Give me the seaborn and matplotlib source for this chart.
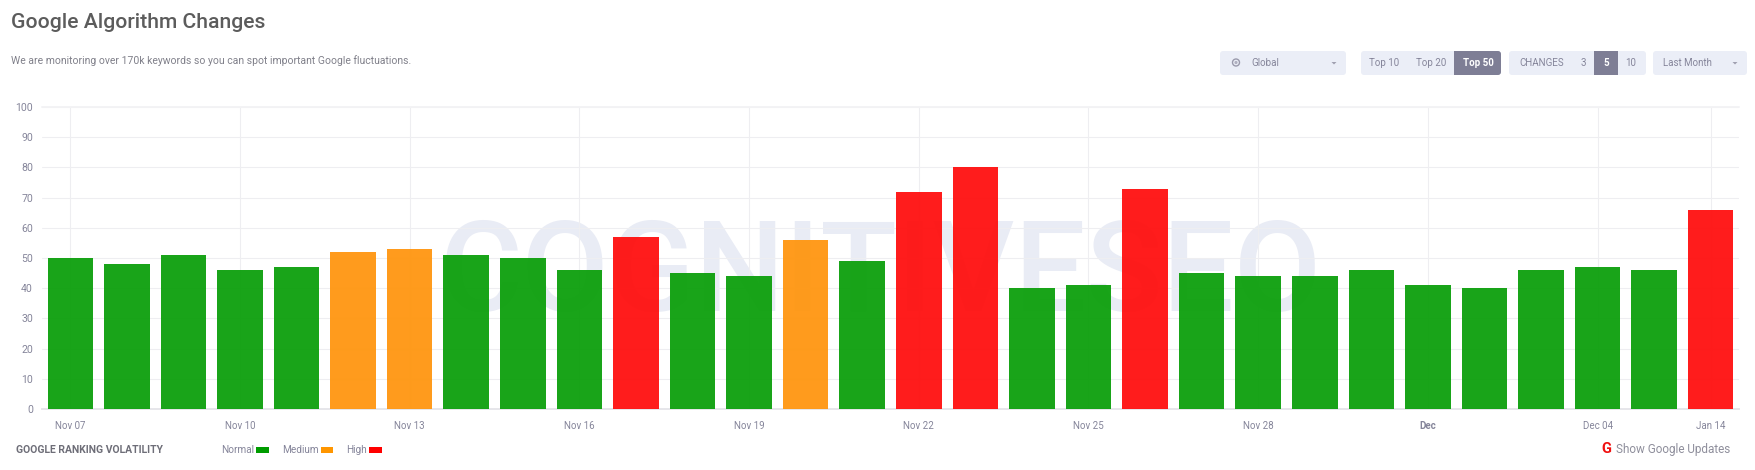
"""Google algorithm changes: daily ranking volatility bars with the page controls around them."""

import matplotlib.pyplot as plt
import pandas as pd
import seaborn as sns
from matplotlib.patches import Circle, FancyBboxPatch, Polygon, Rectangle

days = [
    "Nov 07", "Nov 08", "Nov 09", "Nov 10", "Nov 11", "Nov 12", "Nov 13", "Nov 14", "Nov 15", "Nov 16",
    "Nov 17", "Nov 18", "Nov 19", "Nov 20", "Nov 21", "Nov 22", "Nov 23", "Nov 24", "Nov 25", "Nov 26",
    "Nov 27", "Nov 28", "Nov 29", "Nov 30", "Dec 01", "Dec 02", "Dec 03", "Dec 04", "Dec 05", "Jan 14",
]
volatility = [
    50, 48, 51, 46, 47, 52, 53, 51, 50, 46,
    57, 45, 44, 56, 49, 72, 80, 40, 41, 73,
    45, 44, 44, 46, 41, 40, 46, 47, 46, 66,
]
levels = [
    "Normal", "Normal", "Normal", "Normal", "Normal", "Medium", "Medium", "Normal", "Normal", "Normal",
    "High", "Normal", "Normal", "Medium", "Normal", "High", "High", "Normal", "Normal", "High",
    "Normal", "Normal", "Normal", "Normal", "Normal", "Normal", "Normal", "Normal", "Normal", "High",
]
tick_days = ["Nov 07", "Nov 10", "Nov 13", "Nov 16", "Nov 19", "Nov 22", "Nov 25", "Nov 28", "Dec 01", "Dec 04", "Jan 14"]
tick_labels = ["Nov 07", "Nov 10", "Nov 13", "Nov 16", "Nov 19", "Nov 22", "Nov 25", "Nov 28", "Dec", "Dec 04", "Jan 14"]
y_ticks = list(range(0, 101, 10))

W, H = 1755, 470
PILL = "#ebeef7"
ACTIVE = "#7e7e95"
TEXT = "#85859a"
GRID = "#eeeef1"

sns.set_style("white")
plt.rcParams["font.family"] = ["Roboto", "DejaVu Sans"]

df = pd.DataFrame({"day": days, "volatility": volatility, "level": levels})

fig = plt.figure(figsize=(W / 100, H / 100), dpi=100)

# page layer in pixel coordinates, sits behind the chart
page = fig.add_axes([0, 0, 1, 1], zorder=0)
page.set_xlim(0, W)
page.set_ylim(H, 0)
page.axis("off")


def pill(x0, x1, color=PILL, y0=51, y1=75):
    page.add_patch(FancyBboxPatch((x0, y0), x1 - x0, y1 - y0, boxstyle="round,pad=0,rounding_size=3",
                                  fc=color, ec="none"))


def label(x, y, s, size=7, color=TEXT, ha="center", **kw):
    page.text(x, y, s, fontsize=size, color=color, ha=ha, va="center", **kw)


def caret(x):
    page.add_patch(Polygon([(x - 2.5, 62), (x + 2.5, 62), (x, 64.5)], fc="#a0a0b0", ec="none"))


page.text(881, 276, "COGNITIVESEO", fontsize=91, color="#e9ecf5", ha="center", va="center", fontweight="medium")

label(11, 22, "Google Algorithm Changes", size=15.2, color="#5c5c5c", ha="left", fontweight="medium")
label(11, 61, "We are monitoring over 170k keywords so you can spot important Google fluctuations.",
      size=7.5, color="#80808a", ha="left")

# controls
pill(1220, 1346)
page.add_patch(Circle((1236, 62.5), 3.5, fc="none", ec="#9a9aac", lw=1))
page.add_patch(Circle((1236, 62.5), 1.6, fc="#b0b0c0", ec="none"))
label(1251, 63, "Global", ha="left")
caret(1334)

pill(1361, 1501)
label(1384, 63, "Top 10")
label(1431, 63, "Top 20")
pill(1454, 1501, ACTIVE)
page.add_patch(Rectangle((1454, 51), 6, 24, fc=ACTIVE, ec="none"))
label(1478, 63, "Top 50", color="white", fontweight="bold")

pill(1509, 1646)
label(1519, 63, "CHANGES", ha="left")
label(1583, 63, "3")
page.add_patch(Rectangle((1594, 51), 24, 24, fc=ACTIVE, ec="none"))
label(1606, 63, "5", color="white", fontweight="bold")
label(1631, 63, "10")

pill(1653, 1747)
label(1663, 63, "Last Month", ha="left")
caret(1735)

# footer
label(16, 450, "GOOGLE RANKING VOLATILITY", size=7.5, color="#6e6e78", ha="left", fontweight="bold")
label(221, 450, "Normal", ha="left", size=7.2)
page.add_patch(Rectangle((256, 447), 13, 6, fc="#009c00", ec="none"))
label(282, 450, "Medium", ha="left", size=7.2)
page.add_patch(Rectangle((321, 447), 12, 6, fc="#ff9600", ec="none"))
label(346, 450, "High", ha="left", size=7.2)
page.add_patch(Rectangle((369, 447), 13, 6, fc="#ff0000", ec="none"))
label(1606.5, 449, "G", size=10.5, color="#f01010", fontweight="bold")
label(1616, 449, "Show Google Updates", size=8.5, color="#8f8f9c", ha="left")

# chart
ax = fig.add_axes([42 / W, 1 - 409 / H, (1739 - 42) / W, (409 - 107) / H], zorder=1)
ax.patch.set_alpha(0)

sns.barplot(
    data=df, x="day", y="volatility", hue="level", order=days, dodge=False, legend=False,
    palette={"Normal": "#0c9f0c", "Medium": "#ff9610", "High": "#ff0f0f"},
    width=0.805, alpha=0.95, saturation=1, linewidth=0, zorder=3, ax=ax,
)

ax.set_xlim(-0.5, len(days) - 0.5)
ax.set_ylim(0, 100)
ax.set_xlabel("")
ax.set_ylabel("")
ax.set_yticks(y_ticks)
ax.set_xticks([days.index(d) for d in tick_days])
ax.set_xticklabels(tick_labels)
ax.tick_params(axis="x", length=0, pad=8.5, labelsize=7, labelcolor=TEXT)
ax.tick_params(axis="y", length=0, pad=6.5, labelsize=7.6, labelcolor=TEXT)
ax.get_xticklabels()[tick_labels.index("Dec")].set_fontweight("bold")
ax.grid(True, color=GRID, linewidth=0.75, zorder=1)
ax.set_axisbelow(True)
sns.despine(ax=ax, left=True, top=True, right=True, bottom=False)
ax.spines["bottom"].set_color("#e6e6ea")
ax.spines["bottom"].set_linewidth(1.4)
ax.axhline(100, color="#f3f3f5", linewidth=1.4, zorder=1, clip_on=False)

fig.savefig("out.png", dpi=100)
